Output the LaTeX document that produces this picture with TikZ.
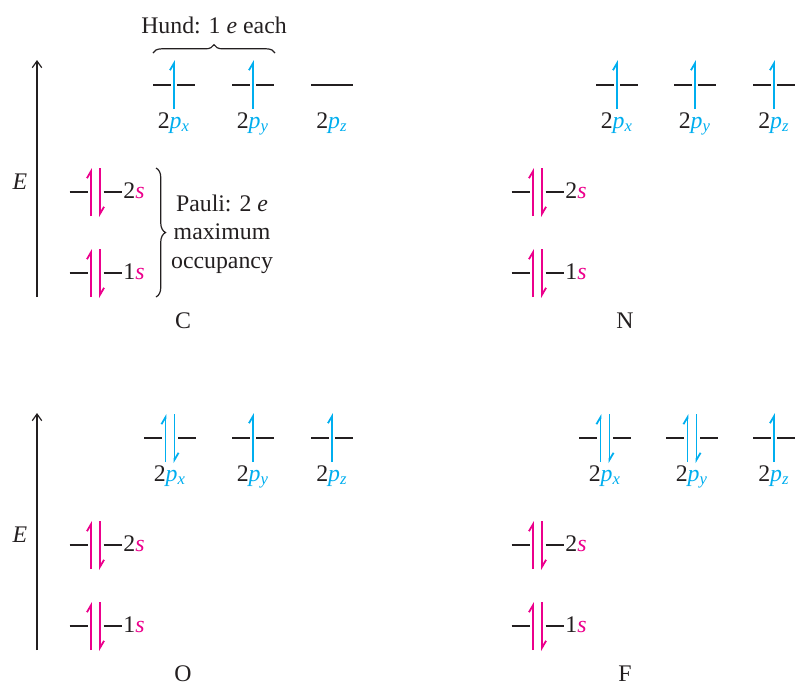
\documentclass[tikz,border=0pt]{standalone}
\usepackage{fontspec}
\setmainfont{Liberation Serif}
\usetikzlibrary{arrows.meta, decorations.pathreplacing}
\definecolor{ink}{HTML}{231F20}
\definecolor{spin-p}{HTML}{00AEEF}
\definecolor{spin-s}{HTML}{EC008C}
\tikzset{
  orb-line/.style={draw=ink, line width=0.5pt},
  spin-line/.style={line width=0.75pt,
    -{Straight Barb[harpoon, length=2.9pt, width=3.4pt]}},
  energy-axis/.style={draw=ink, line width=0.5pt,
    -{Straight Barb[length=2.8pt, width=4pt]}},
  rule-brace/.style={draw=ink, line width=0.5pt, decorate,
    decoration={brace, amplitude=#1}},
  s-label/.style={anchor=base west, inner sep=0pt, text=ink},
  p-label/.style={anchor=base, inner sep=0pt, text=ink},
  pics/up-level/.style={code={
    \draw[orb-line] (-21,0) -- (-3,0) (3,0) -- (21,0);
    \draw[spin-line, draw=#1] (0,24) -- (0,-25);
  }},
  pics/pair-level/.style={code={
    \draw[orb-line] (-26,0) -- (-8,0) (8,0) -- (26,0);
    \draw[spin-line, draw=#1] (-4.5,24) -- (-4.5,-24);
    \draw[spin-line, draw=#1] (4.5,-24) -- (4.5,25);
  }},
  pics/bare-level/.style={code={
    \draw[orb-line] (-21,0) -- (21,0);
  }}
}
\newcommand{\plab}[1]{2\textcolor{spin-p}{\textit{p}\textsubscript{\textit{#1}}}}

\begin{document}
\begin{tikzpicture}[x=0.42pt, y=-0.42pt, font=\fontsize{10}{11.8}\selectfont, text=ink]
  \useasboundingbox (0,0) rectangle (795,683);

  % ---- Energy axes (left panels only) -------------------------------------
  \draw[energy-axis] (37,297) -- (37,60);
  \node (E-top) at (20,182) {\textit{E}};
  \draw[energy-axis] (37,650) -- (37,413);
  \node (E-bottom) at (20,535) {\textit{E}};

  % ---- 1s and 2s levels, same in every panel ------------------------------
  \foreach \el/\dx/\dy in {C/0/0, N/442/0, O/0/353, F/442/353} {
    \begin{scope}[shift={(\dx,\dy)}]
      \pic at (95.5,192) {pair-level=spin-s};
      \pic at (95.5,273) {pair-level=spin-s};
      \node[s-label] (\el-2s) at (123,198) {2\textcolor{spin-s}{\textit{s}}};
      \node[s-label] (\el-1s) at (123,279) {1\textcolor{spin-s}{\textit{s}}};
      \node[p-label] (\el-name) at (183,328) {\el};
    \end{scope}
  }

  % ---- 2p levels: C -------------------------------------------------------
  \pic at (174,85) {up-level=spin-p};
  \pic at (253,85) {up-level=spin-p};
  \pic at (332,85) {bare-level};
  \node[p-label] (C-px) at (174,128) {\plab{x}};
  \node[p-label] (C-py) at (253,128) {\plab{y}};
  \node[p-label] (C-pz) at (332,128) {\plab{z}};

  % ---- 2p levels: N -------------------------------------------------------
  \pic at (617,85) {up-level=spin-p};
  \pic at (695,85) {up-level=spin-p};
  \pic at (774,85) {up-level=spin-p};
  \node[p-label] (N-px) at (617,128) {\plab{x}};
  \node[p-label] (N-py) at (695,128) {\plab{y}};
  \node[p-label] (N-pz) at (774,128) {\plab{z}};

  % ---- 2p levels: O -------------------------------------------------------
  \pic at (170,438) {pair-level=spin-p};
  \pic at (253,438) {up-level=spin-p};
  \pic at (332,438) {up-level=spin-p};
  \node[p-label] (O-px) at (170,481) {\plab{x}};
  \node[p-label] (O-py) at (253,481) {\plab{y}};
  \node[p-label] (O-pz) at (332,481) {\plab{z}};

  % ---- 2p levels: F -------------------------------------------------------
  \pic at (605,438) {pair-level=spin-p};
  \pic at (692,438) {pair-level=spin-p};
  \pic at (774,438) {up-level=spin-p};
  \node[p-label] (F-px) at (605,481) {\plab{x}};
  \node[p-label] (F-py) at (692,481) {\plab{y}};
  \node[p-label] (F-pz) at (774,481) {\plab{z}};

  % ---- Hund and Pauli notes -----------------------------------------------
  \draw[rule-brace=3.5pt] (153,53) -- (275,53);
  \node[anchor=base] (hund) at (214,33) {Hund: 1 \textit{e} each};
  \draw[rule-brace=4pt] (156,168) -- (156,297);
  \node[anchor=base, align=center, inner sep=0pt] (pauli) at (222,268)
        {Pauli: 2 \textit{e}\\maximum\\occupancy};

\end{tikzpicture}
\end{document}
